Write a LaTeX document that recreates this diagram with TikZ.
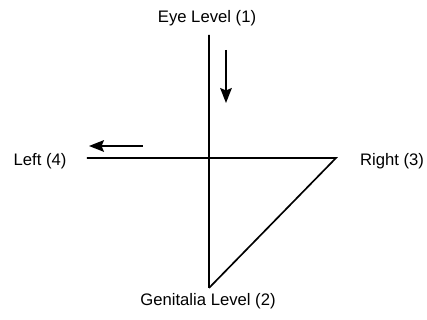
\documentclass[tikz,border=0pt]{standalone}
\usepackage{fontspec}
\setmainfont{Liberation Sans}
\usetikzlibrary{arrows.meta}

\begin{document}
\begin{tikzpicture}[x=0.6pt,y=-0.6pt,>={Stealth[length=9pt,width=7pt,inset=1.5pt]},
                    font=\normalsize,line width=1pt,
                    lbl/.style={inner sep=1pt}]
  \useasboundingbox (0,0) rectangle (427,320);
  % labels
  \node[lbl] (eye) at (207,18) {Eye Level (1)};
  \node[lbl] (gen) at (208,301) {Genitalia Level (2)};
  \node[lbl] (rgt) at (392,161) {Right (3)};
  \node[lbl] (lft) at (40,161) {Left (4)};
  % axes and triangle
  \coordinate (t) at (209,35);
  \coordinate (b) at (209,288);
  \coordinate (l) at (87,158);
  \coordinate (r) at (336,158);
  \draw (t)--(b) (l)--(r)--(b);
  % direction of movement
  \coordinate (d1) at (226,50);
  \coordinate (d2) at (226,103);
  \draw[->] (d1)--(d2);
  \coordinate (h1) at (143,146);
  \coordinate (h2) at (89,146);
  \draw[->] (h1)--(h2);
\end{tikzpicture}
\end{document}
